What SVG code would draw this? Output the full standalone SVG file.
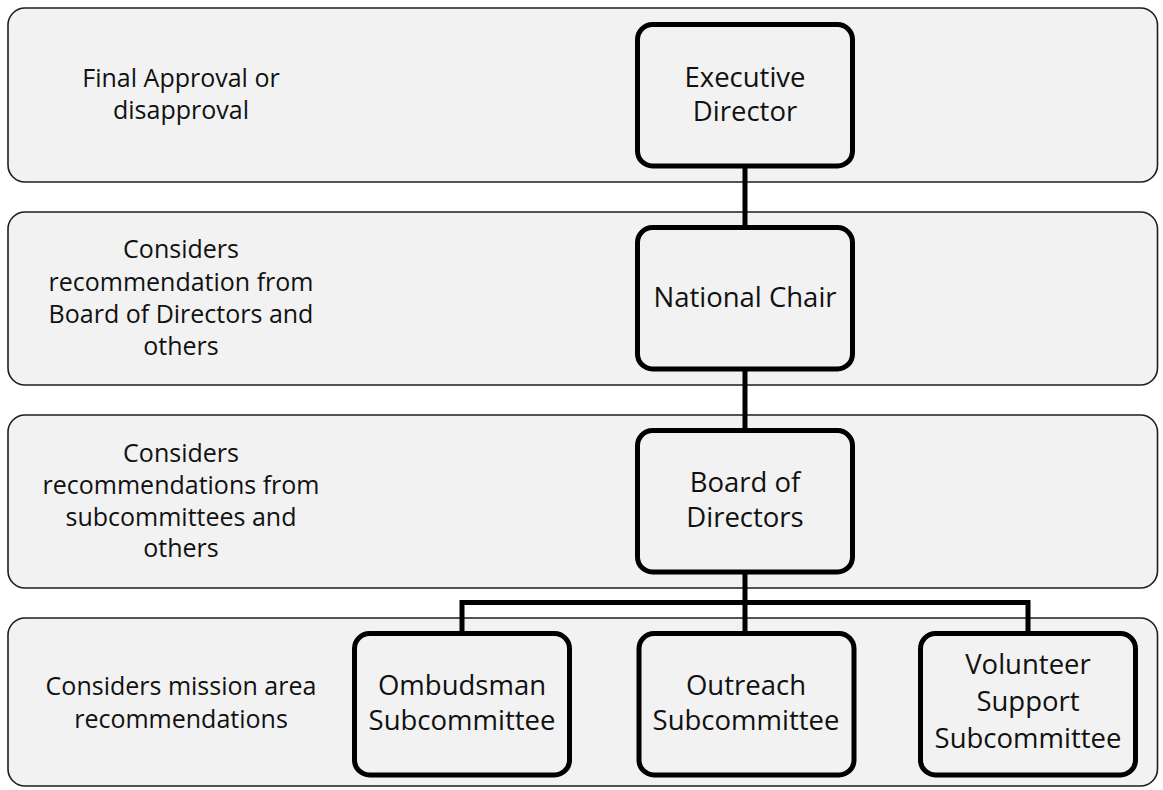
<svg xmlns="http://www.w3.org/2000/svg" width="1163" height="790" viewBox="0 0 1163 790">
<style>
.band{fill:#f2f2f2;stroke:#1e1e1e;stroke-width:1.6}
.node{fill:#f2f2f2;stroke:#000;stroke-width:5}
.conn{fill:none;stroke:#000;stroke-width:5;stroke-linejoin:miter}
.lbl{font-family:"Open Sans","Noto Sans",sans-serif;font-size:25px;fill:#111;text-anchor:middle}
.ntx{font-family:"Open Sans","Noto Sans",sans-serif;font-size:27.5px;fill:#111;text-anchor:middle}
</style>
<rect width="1163" height="790" fill="#fff"/>
<g id="band1"><rect class="band" x="8" y="8" width="1149.5" height="174" rx="17"/>
<text class="lbl" x="181" y="87">Final Approval or</text><text class="lbl" x="181" y="119">disapproval</text></g>
<g id="band2"><rect class="band" x="8" y="212" width="1149.5" height="173" rx="17"/>
<text class="lbl" x="181" y="258">Considers</text><text class="lbl" x="181" y="291">recommendation from</text><text class="lbl" x="181" y="323">Board of Directors and</text><text class="lbl" x="181" y="355">others</text></g>
<g id="band3"><rect class="band" x="8" y="415" width="1149.5" height="173" rx="17"/>
<text class="lbl" x="181" y="462">Considers</text><text class="lbl" x="181" y="494">recommendations from</text><text class="lbl" x="181" y="526">subcommittees and</text><text class="lbl" x="181" y="557">others</text></g>
<g id="band4"><rect class="band" x="8" y="618" width="1149.5" height="168" rx="17"/>
<text class="lbl" x="181" y="695">Considers mission area</text><text class="lbl" x="181" y="728">recommendations</text></g>
<g id="connectors">
<path class="conn" d="M745 166V229"/>
<path class="conn" d="M745 369V432"/>
<path class="conn" d="M745 572V635"/>
<path class="conn" d="M462 635V602.5H1028V635"/>
</g>
<g id="exec"><rect class="node" x="637.5" y="24.5" width="215" height="141.5" rx="15"/>
<text class="ntx" x="745" y="87">Executive</text><text class="ntx" x="745" y="121">Director</text></g>
<g id="chair"><rect class="node" x="637.5" y="227.5" width="215" height="141.5" rx="15"/>
<text class="ntx" x="745" y="307">National Chair</text></g>
<g id="board"><rect class="node" x="637.5" y="430.5" width="215" height="141.5" rx="15"/>
<text class="ntx" x="745" y="492">Board of</text><text class="ntx" x="745" y="527">Directors</text></g>
<g id="ombudsman"><rect class="node" x="354.5" y="633.5" width="215" height="141.5" rx="15"/>
<text class="ntx" x="462" y="695">Ombudsman</text><text class="ntx" x="462" y="730">Subcommittee</text></g>
<g id="outreach"><rect class="node" x="639" y="633.5" width="215" height="141.5" rx="15"/>
<text class="ntx" x="746" y="695">Outreach</text><text class="ntx" x="746" y="730">Subcommittee</text></g>
<g id="volunteer"><rect class="node" x="920.5" y="633.5" width="215" height="141.5" rx="15"/>
<text class="ntx" x="1028" y="674">Volunteer</text><text class="ntx" x="1028" y="711">Support</text><text class="ntx" x="1028" y="748">Subcommittee</text></g>
</svg>
